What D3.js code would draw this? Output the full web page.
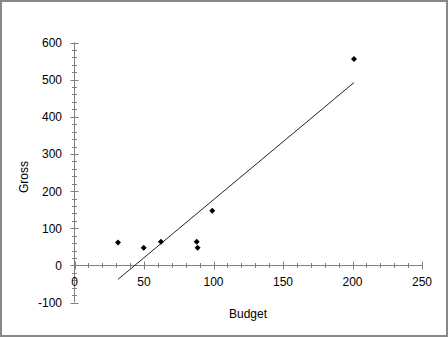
<!DOCTYPE html>
<html>
<head>
<meta charset="utf-8">
<script src="https://cdn.jsdelivr.net/npm/d3@7"></script>
<style>
  body { margin: 0; background: #fff; }
  svg text { font-family: "Liberation Sans", Arial, sans-serif; font-size: 12px; fill: #000; }
</style>
</head>
<body>
<div id="chart"></div>
<script>
// scatter of budget vs gross with a least squares line

var budget = [31.3, 49.8, 62.2, 87.9, 88.6, 99.1, 201.1];
var gross = [61.8, 47.6, 63.7, 63.7, 47.6, 147, 555.6];
var xTicks = [0, 50, 100, 150, 200, 250];
var yTicks = [-100, 0, 100, 200, 300, 400, 500, 600];

var width = 448, height = 337;

var svg = d3.select('#chart').append('svg')
    .attr('width', width)
    .attr('height', height);

svg.append('rect') // frame round the whole chart
    .attr('x', 1).attr('y', 1)
    .attr('width', 446).attr('height', 335)
    .attr('fill', '#fff')
    .attr('stroke', '#888')
    .attr('stroke-width', 2);

var x = d3.scaleLinear().domain([0, 250]).range([74.5, 422]);
var y = d3.scaleLinear().domain([-100, 600]).range([302.5, 42.5]);

var axisCol = '#808080';

// y axis line + ticks
svg.append('line')
    .attr('x1', x(0)).attr('x2', x(0))
    .attr('y1', y(-100)).attr('y2', y(600))
    .attr('stroke', axisCol);

var yMinor = d3.range(-100, 601, 20);
svg.selectAll('.ytick').data(yMinor).enter().append('line')
    .attr('x1', d => x(0) - (d % 100 === 0 ? 4 : 2.5))
    .attr('x2', d => x(0) + (d % 100 === 0 ? 4 : 2.5))
    .attr('y1', d => Math.round(y(d)) + 0.5)
    .attr('y2', d => Math.round(y(d)) + 0.5)
    .attr('stroke', axisCol);

svg.selectAll('.ylab').data(yTicks).enter().append('text')
    .attr('x', 62)
    .attr('y', d => y(d) + 4.5)
    .attr('text-anchor', 'end')
    .text(d => d);

// x axis line + ticks
svg.append('line')
    .attr('x1', x(0)).attr('x2', x(250))
    .attr('y1', Math.round(y(0)) + 0.5).attr('y2', Math.round(y(0)) + 0.5)
    .attr('stroke', axisCol);

var xMinor = d3.range(0, 251, 10);
svg.selectAll('.xtick').data(xMinor).enter().append('line')
    .attr('x1', d => Math.round(x(d)) + 0.5)
    .attr('x2', d => Math.round(x(d)) + 0.5)
    .attr('y1', d => Math.round(y(0)) + 0.5 - (d % 50 === 0 ? 4 : 2.5))
    .attr('y2', d => Math.round(y(0)) + 0.5 + (d % 50 === 0 ? 4 : 2.5))
    .attr('stroke', axisCol);

svg.selectAll('.xlab').data(xTicks).enter().append('text')
    .attr('x', d => x(d))
    .attr('y', 286)
    .attr('text-anchor', 'middle')
    .text(d => d);

// axis titles
svg.append('text')
    .attr('x', 248).attr('y', 318)
    .attr('text-anchor', 'middle')
    .text('Budget');

svg.append('text')
    .attr('transform', 'translate(28,177) rotate(-90)')
    .attr('text-anchor', 'middle')
    .text('Gross');

// least squares fit
var mx = d3.mean(budget), my = d3.mean(gross);
var sxy = d3.sum(budget, (b, i) => (b - mx) * (gross[i] - my));
var sxx = d3.sum(budget, b => (b - mx) * (b - mx));
var slope = sxy / sxx, icpt = my - slope * mx;
var x0 = d3.min(budget), x1 = d3.max(budget);

svg.append('line')
    .attr('x1', x(x0)).attr('y1', y(icpt + slope * x0))
    .attr('x2', x(x1)).attr('y2', y(icpt + slope * x1))
    .attr('stroke', '#222')
    .attr('stroke-width', 1);

// points
var pts = budget.map((b, i) => ({b: b, g: gross[i]}));
svg.selectAll('.pt').data(pts).enter().append('path')
    .attr('d', 'M0,-3L3,0L0,3L-3,0Z')
    .attr('transform', d => 'translate(' + x(d.b) + ',' + y(d.g) + ')')
    .attr('fill', '#000');
</script>
</body>
</html>
